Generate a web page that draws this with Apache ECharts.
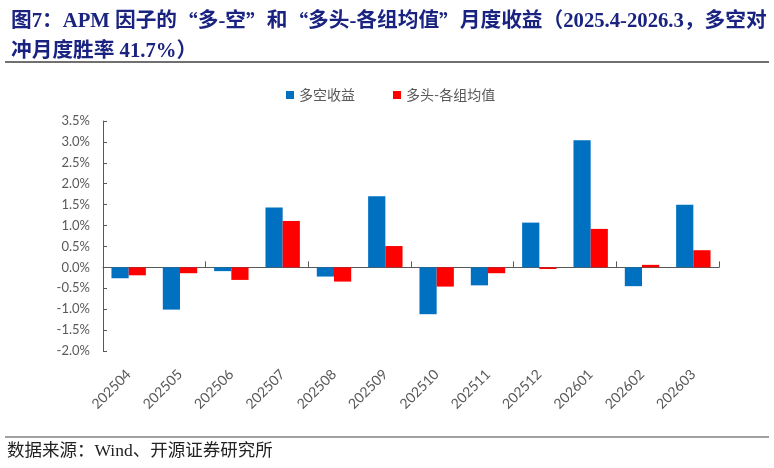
<!DOCTYPE html>
<html>
<head>
<meta charset="utf-8">
<script src="https://cdn.jsdelivr.net/npm/echarts@6/dist/echarts.min.js"></script>
<style>
  html, body { margin: 0; padding: 0; background: #fff; }
  #main { width: 774px; height: 468px; }
</style>
</head>
<body>
<div id="main"></div>
<script>
// 月份
var months = ["202504", "202505", "202506", "202507", "202508", "202509",
  "202510", "202511", "202512", "202601", "202602", "202603"];
// 多空收益 (%)
var longShort = [-0.26, -1.01, -0.09, 1.43, -0.22, 1.70, -1.12, -0.43, 1.07, 3.04, -0.45, 1.50];
// 多头-各组均值 (%)
var longMinusAvg = [-0.19, -0.14, -0.30, 1.11, -0.34, 0.51, -0.46, -0.14, -0.04, 0.92, 0.06, 0.41];
var seriesNames = ["多空收益", "多头-各组均值"];

var titleLines = [
  "图7：APM 因子的“多-空”和“多头-各组均值”月度收益（2025.4-2026.3，多空对",
  "冲月度胜率 41.7%）"
];
var sourceText = "数据来源：Wind、开源证券研究所";

var labelColor = "#595959";
var labelFont = "Lato, 'Noto Sans CJK SC', sans-serif";
var serifFont = "'Liberation Serif', 'Noto Sans CJK SC', serif";

//引号用中文字体（全角宽度）
function richTitle(s) {
  return s.replace(/([“”])/g, "{q|$1}");
}

window.onload = function () {
  var chart = echarts.init(document.getElementById("main"));
  var option = {
    backgroundColor: "#fff",
    animation: false,
    title: {
      text: titleLines.map(richTitle).join("\n"),
      left: 6,
      top: 2,
      textStyle: {
        color: "#1a2380",
        fontSize: 20.7,
        fontWeight: "bold",
        lineHeight: 30,
        fontFamily: serifFont,
        rich: {
          q: {
            color: "#1a2380",
            fontSize: 20.7,
            fontWeight: "bold",
            lineHeight: 30,
            fontFamily: "'Noto Sans CJK SC', sans-serif",
          },
        },
      },
    },
    color: ["#0070C0", "#FF0000"],
    legend: {
      left: 281,
      top: 83,
      icon: "rect",
      itemWidth: 8,
      itemHeight: 8,
      itemGap: 38,
      textStyle: { color: labelColor, fontSize: 14, fontFamily: labelFont },
      data: seriesNames,
    },
    grid: { left: 103, right: 55, top: 121, bottom: 117 },
    xAxis: [
      {
        // 底部的月份标签
        type: "category",
        data: months,
        position: "bottom",
        axisLine: { show: false, onZero: false },
        axisTick: { show: false },
        axisLabel: {
          rotate: 45,
          margin: 21,
          interval: 0,
          color: labelColor,
          fontSize: 14,
          fontFamily: labelFont,
        },
      },
      {
        // 0 轴上的轴线与刻度
        type: "category",
        data: months,
        position: "bottom",
        axisLine: { show: true, onZero: true, lineStyle: { color: "#595959", width: 1 } },
        axisTick: { show: true, inside: true, length: 6, lineStyle: { color: "#595959" } },
        axisLabel: { show: false },
      },
    ],
    yAxis: {
      type: "value",
      min: -2,
      max: 3.5,
      interval: 0.5,
      axisLine: { show: true, lineStyle: { color: "#595959", width: 1 } },
      axisTick: { show: true, inside: true, length: 4, lineStyle: { color: "#595959" } },
      splitLine: { show: false },
      axisLabel: {
        margin: 13,
        color: labelColor,
        fontSize: 13,
        fontFamily: labelFont,
        formatter: function (v) {
          return v.toFixed(1) + "%";
        },
      },
    },
    graphic: [
      {
        type: "line",
        shape: { x1: 5, y1: 62, x2: 769, y2: 62 },
        style: { stroke: "#404040", lineWidth: 1.5 },
      },
      {
        type: "line",
        shape: { x1: 5, y1: 437, x2: 769, y2: 437 },
        style: { stroke: "#808080", lineWidth: 1.5 },
      },
      {
        type: "text",
        left: 7,
        top: 443,
        style: {
          text: sourceText,
          fill: "#222",
          fontSize: 17.5,
          fontFamily: serifFont,
        },
      },
    ],
    series: [
      {
        name: seriesNames[0],
        type: "bar",
        data: longShort,
        barGap: "0%",
        barCategoryGap: "33%",
      },
      {
        name: seriesNames[1],
        type: "bar",
        data: longMinusAvg,
        barGap: "0%",
        barCategoryGap: "33%",
      },
    ],
  };
  chart.setOption(option);
  window.onresize = function () {
    chart.resize();
  };
};
</script>
</body>
</html>
